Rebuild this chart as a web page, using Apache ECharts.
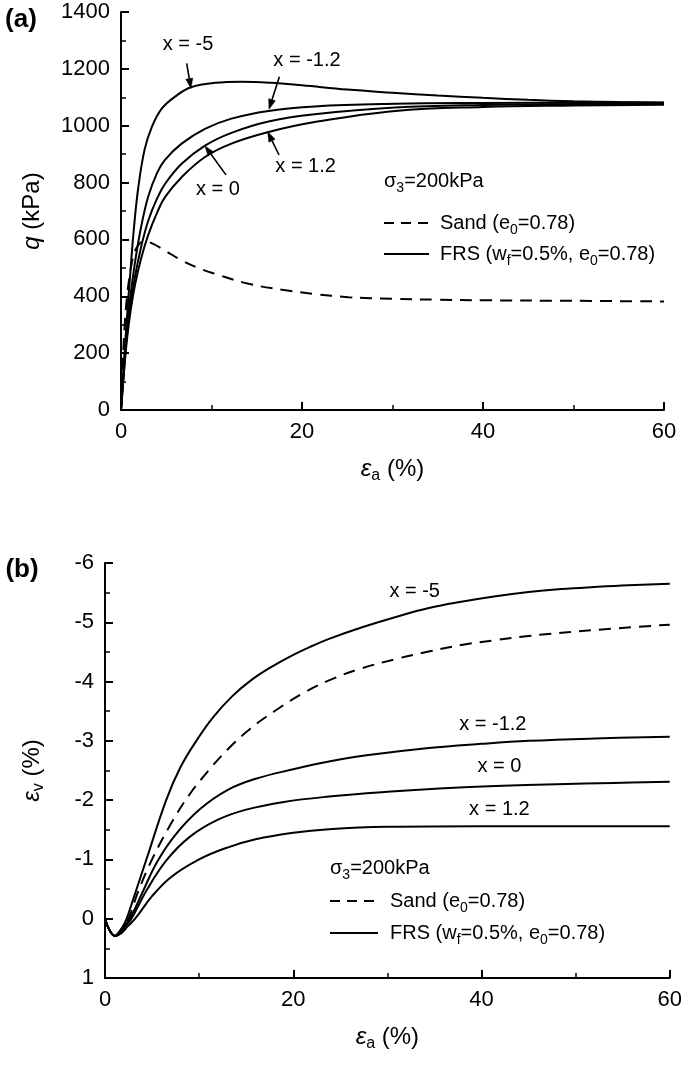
<!DOCTYPE html>
<html><head><meta charset="utf-8">
<script src="https://cdn.jsdelivr.net/npm/echarts/dist/echarts.min.js"></script>
<style>html,body{margin:0;padding:0;background:#fff}#c{width:685px;height:1068px}</style>
</head><body><div id="c"></div>
<script>
const FONT = '"Liberation Sans", Arial, Helvetica, sans-serif';

// ---- Panel (a): deviator stress q (kPa) vs axial strain (%) ----
const qSand = [[0,0],[0.2,170],[0.44,315],[0.7,410],[0.99,479],[1.3,535],[1.55,561],[2.1,587],[2.65,594],[3.5,585],[4.86,561],[6.7,526],[8.5,500],[10.4,479],[14.1,444],[17.8,423],[21.4,408],[25.1,397],[30,391],[35,388],[40,386],[50,384],[60,382]];
const qXm5 = [[0,0],[0.3,150],[0.6,300],[1.0,470],[1.4,630],[1.9,780],[2.6,915],[3.4,995],[4.5,1060],[6,1103],[7.8,1136],[10.4,1151],[13.3,1155],[16.6,1151],[20,1142],[25,1127],[30,1116],[35,1106],[40,1098],[45,1091],[50,1086],[55,1083],[60,1081]];
const qXm12 = [[0,0],[0.3,140],[0.6,265],[1.0,390],[1.55,520],[2.2,640],[3.0,750],[4.0,835],[4.86,880],[6.7,937],[9.28,989],[12.2,1025],[16.3,1052],[21.4,1068],[30.3,1077],[40,1080],[50,1081],[60,1082]];
const qX0 = [[0,0],[0.3,130],[0.6,245],[1.0,360],[1.55,470],[2.2,570],[3.0,665],[4.0,745],[4.86,795],[6.7,866],[9.28,930],[12.2,975],[16.3,1015],[21.4,1040],[30.3,1064],[40,1073],[50,1076],[60,1078]];
const qX12 = [[0,0],[0.3,120],[0.6,230],[1.0,335],[1.55,440],[2.2,530],[3.0,615],[4.0,695],[4.86,749],[6.7,819],[9.28,890],[12.2,937],[16.3,978],[21.4,1013],[30.3,1052],[40,1066],[50,1071],[60,1074]];

// ---- Panel (b): volumetric strain (%) vs axial strain (%) ----
const vSand = [[0,0],[0.5,0.2],[1.06,0.29],[1.6,0.22],[2,0.1],[2.5,0],[3.5,-0.45],[5,-1.0],[7,-1.6],[9,-2.1],[11,-2.5],[13,-2.85],[15.4,-3.2],[18,-3.5],[21,-3.8],[23.8,-4.02],[27,-4.21],[30.9,-4.38],[34.5,-4.51],[38,-4.62],[41.5,-4.7],[45,-4.77],[52,-4.87],[60,-4.96]];
const vXm5 = [[0,0],[0.5,0.2],[1.06,0.29],[1.5,0.22],[2,0.1],[2.3,0],[3,-0.33],[4.4,-1.0],[6.5,-2.0],[8,-2.55],[9.7,-3.0],[11.5,-3.4],[13.5,-3.75],[15.5,-4.02],[17.5,-4.23],[20,-4.45],[22,-4.6],[23.8,-4.72],[27.4,-4.92],[30.9,-5.09],[34.4,-5.24],[38,-5.35],[41.5,-5.44],[45,-5.51],[48.5,-5.56],[52,-5.595],[55.6,-5.625],[60,-5.65]];
const vXm12 = [[0,0],[0.5,0.2],[1.06,0.29],[1.6,0.23],[2.1,0.12],[2.65,0],[4,-0.45],[5.5,-0.95],[7.5,-1.42],[10.1,-1.85],[13,-2.17],[16,-2.36],[20,-2.52],[23.8,-2.65],[28,-2.76],[34.4,-2.88],[40,-2.95],[45,-3.0],[52,-3.04],[60,-3.07]];
const vX0 = [[0,0],[0.5,0.2],[1.06,0.29],[1.6,0.24],[2.2,0.12],[2.8,0],[4.5,-0.5],[6.5,-0.98],[9,-1.38],[12,-1.67],[15,-1.84],[19,-1.97],[23.8,-2.06],[30,-2.14],[36,-2.2],[41.5,-2.24],[48,-2.27],[54,-2.29],[60,-2.31]];
const vX12 = [[0,0],[0.5,0.2],[1.06,0.29],[1.7,0.25],[2.4,0.13],[3.2,0],[5,-0.38],[7,-0.7],[10,-1.0],[13,-1.2],[16,-1.34],[20,-1.45],[23.8,-1.51],[30,-1.55],[40,-1.56],[50,-1.56],[60,-1.56]];

// annotation labels (data coordinates) and arrows
const annA = [
  {text:'x = -5',   at:[7.4,1284],  from:[7.26,1219], to:[7.73,1131]},
  {text:'x = -1.2', at:[20.55,1228],from:[17.5,1172], to:[16.35,1058]},
  {text:'x = 0',    at:[10.7,774],  from:[11.6,827],  to:[9.28,929]},
  {text:'x = 1.2',  at:[20.4,855],  from:[17.46,897], to:[16.2,979]}
];
const annB = [
  {text:'x = -5',   at:[32.9,-5.52]},
  {text:'x = -1.2', at:[41.2,-3.27]},
  {text:'x = 0',    at:[41.9,-2.56]},
  {text:'x = 1.2',  at:[41.9,-1.85]}
];

const chart = echarts.init(document.getElementById('c'), null, {renderer:'canvas'});

function axisStyle() {
  return {
    axisLine: {show:true, onZero:false, lineStyle:{color:'#000', width:2}},
    axisTick: {show:true, inside:true, length:8, lineStyle:{color:'#000', width:2}},
    minorTick: {show:true, splitNumber:2, length:5, lineStyle:{color:'#000', width:1.5}},
    splitLine: {show:false},
    minorSplitLine: {show:false},
    axisLabel: {color:'#000', fontSize:22, fontFamily:FONT, margin:11, formatter: v => String(v)}
  };
}
const nameRich = {
  e: {fontSize:24, fontFamily:FONT, fontStyle:'italic', color:'#000', lineHeight:30},
  q: {fontSize:24, fontFamily:FONT, fontStyle:'italic', color:'#000', lineHeight:30},
  n: {fontSize:24, fontFamily:FONT, color:'#000', lineHeight:30},
  s: {fontSize:16, fontFamily:FONT, color:'#000', lineHeight:16, verticalAlign:'bottom'}
};

function line(data, xi, dashed) {
  return {
    type:'line', xAxisIndex:xi, yAxisIndex:xi, data:data,
    symbol:'none', showSymbol:false, smooth:0.4,
    silent:true, animation:false,
    lineStyle:{color:'#000', width:2, type: dashed ? [12,8] : 'solid'}
  };
}

chart.setOption({
  backgroundColor:'#fff',
  animation:false,
  grid:[
    {left:121, top:12, width:543, height:398},
    {left:105, top:563, width:566, height:415}
  ],
  xAxis:[
    Object.assign(axisStyle(), {type:'value', gridIndex:0, min:0, max:60, interval:20,
      name:'{e|ε}{s|a}{n| (%)}', nameLocation:'middle', nameGap:44, nameTextStyle:{rich:nameRich}}),
    Object.assign(axisStyle(), {type:'value', gridIndex:1, min:0, max:60, interval:20,
      name:'{e|ε}{s|a}{n| (%)}', nameLocation:'middle', nameGap:44, nameTextStyle:{rich:nameRich}})
  ],
  yAxis:[
    Object.assign(axisStyle(), {type:'value', gridIndex:0, min:0, max:1400, interval:200,
      name:'{q|q}{n| (kPa)}', nameLocation:'middle', nameRotate:90, nameGap:74, nameTextStyle:{rich:nameRich}}),
    Object.assign(axisStyle(), {type:'value', gridIndex:1, min:-6, max:1, interval:1, inverse:true,
      name:'{e|ε}{s|v}{n| (%)}', nameLocation:'middle', nameRotate:90, nameGap:58, nameTextStyle:{rich:nameRich}})
  ],
  series:[
    line(qSand,0,true), line(qXm5,0,false), line(qXm12,0,false), line(qX0,0,false), line(qX12,0,false),
    line(vSand,1,true), line(vXm5,1,false), line(vXm12,1,false), line(vX0,1,false), line(vX12,1,false)
  ]
});

const richText = {
  n: {fontSize:20, fontFamily:FONT, fill:'#000', lineHeight:28},
  s: {fontSize:14, fontFamily:FONT, fill:'#000', lineHeight:14, verticalAlign:'bottom'}
};
function txt(text, x, y, align) {
  return {type:'text', x:x, y:y, silent:true,
    style:{text:text, rich:richText, fontSize:20, fontFamily:FONT, fill:'#000', align:align||'left', verticalAlign:'middle'}};
}
function arrow(p1, p2) {
  const dx = p2[0]-p1[0], dy = p2[1]-p1[1];
  const L = Math.sqrt(dx*dx+dy*dy), ux = dx/L, uy = dy/L;
  const hl = 10, hw = 3.5;
  const bx = p2[0]-ux*hl, by = p2[1]-uy*hl;
  return [
    {type:'polyline', silent:true, shape:{points:[p1,[bx,by]]}, style:{stroke:'#000', lineWidth:1.6, fill:null}},
    {type:'polygon', silent:true, shape:{points:[p2,[bx-uy*hw, by+ux*hw],[bx+uy*hw, by-ux*hw]]}, style:{fill:'#000', stroke:'#000', lineWidth:0.5}}
  ];
}

const g = [];
g.push({type:'text', x:21, y:20, silent:true, style:{text:'(a)', font:'bold 26px ' + FONT, fill:'#000', align:'center', verticalAlign:'middle'}});
g.push({type:'text', x:22, y:570, silent:true, style:{text:'(b)', font:'bold 26px ' + FONT, fill:'#000', align:'center', verticalAlign:'middle'}});
annA.forEach(a => {
  const p = chart.convertToPixel({gridIndex:0}, a.at);
  g.push(txt('{n|' + a.text + '}', p[0], p[1], 'center'));
  const f = chart.convertToPixel({gridIndex:0}, a.from);
  const t = chart.convertToPixel({gridIndex:0}, a.to);
  arrow(f, t).forEach(e => g.push(e));
});
annB.forEach(a => {
  const p = chart.convertToPixel({gridIndex:1}, a.at);
  g.push(txt('{n|' + a.text + '}', p[0], p[1], 'center'));
});
// legends
function legendBlock(x0, ySig, yDash, ySolid, lineLen, textX) {
  g.push(txt('{n|σ}{s|3}{n|=200kPa}', x0, ySig));
  g.push({type:'line', silent:true, shape:{x1:x0, y1:yDash, x2:x0+lineLen, y2:yDash}, style:{stroke:'#000', lineWidth:2, lineDash:[10,7]}});
  g.push(txt('{n|Sand (e}{s|0}{n|=0.78)}', textX, yDash));
  g.push({type:'line', silent:true, shape:{x1:x0, y1:ySolid, x2:x0+lineLen, y2:ySolid}, style:{stroke:'#000', lineWidth:2}});
  g.push(txt('{n|FRS (w}{s|f}{n|=0.5%, e}{s|0}{n|=0.78)}', textX, ySolid));
}
legendBlock(384, 181, 223, 254, 45, 440);
legendBlock(330, 868, 901, 933, 48, 390);

chart.setOption({graphic:g});
</script></body></html>
